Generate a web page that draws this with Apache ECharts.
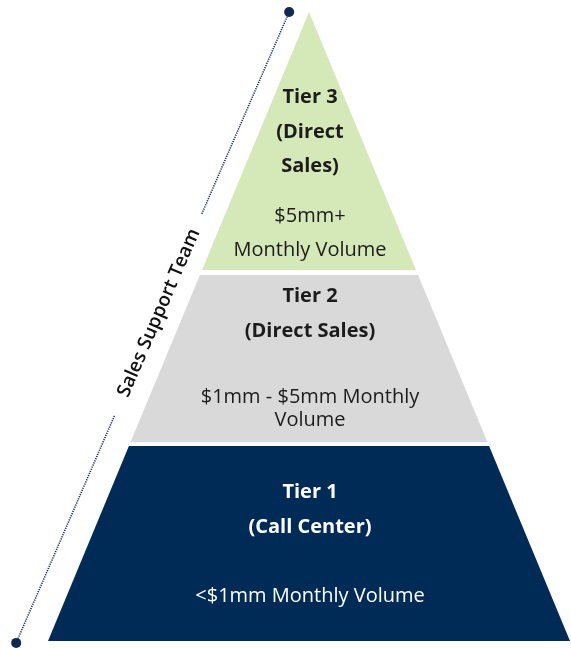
<!DOCTYPE html>
<html><head><meta charset="utf-8">
<script src="https://cdn.jsdelivr.net/npm/echarts@6/dist/echarts.min.js"></script>
<style>html,body{margin:0;padding:0;background:#fff}#c{width:571px;height:648px}</style>
</head><body><div id="c"></div>
<script>
// Tiers, bottom to top; heights as % of pyramid height (0 = base, 100 = apex)
const tierNames = ['Tier 1', 'Tier 2', 'Tier 3'];
const tierBottom = [0, 31.6, 59.0];
const tierTop = [31.0, 58.2, 100];
const tierLines = [
  ['Tier 1', '(Call Center)', '<$1mm Monthly Volume'],
  ['Tier 2', '(Direct Sales)', '$1mm - $5mm Monthly', 'Volume'],
  ['Tier 3', '(Direct', 'Sales)', '$5mm+', 'Monthly Volume']
];
const tierBold = [[1, 1, 0], [1, 1, 0, 0], [1, 1, 1, 0, 0]];
// Bracket annotation (data units)
const bracketStart = [-56.1, -0.3];
const bracketEnd = [-3.8, 100];
const bracketLabel = 'Sales Support Team';

const tierColors = ['#002b57', '#d9d9d9', '#d5e8b8'];
const tierTextColors = ['#ffffff', '#1c1c1c', '#1c1c1c'];
const lineOffsets = [[46, 81, 150], [21, 56, 122, 145], [85, 120, 154, 204, 238]];
const FONT = '"Open Sans", "Liberation Sans", sans-serif';

const chart = echarts.init(document.getElementById('c'), null, {renderer: 'canvas'});

function renderTier(params, api) {
  const i = params.dataIndex;
  const b = api.value(1), t = api.value(2);
  const hb = 50 * (1 - b / 100), ht = 50 * (1 - t / 100);
  const p1 = api.coord([-hb, b]), p2 = api.coord([hb, b]);
  const p3 = api.coord([ht, t]), p4 = api.coord([-ht, t]);
  const children = [{
    type: 'polygon',
    shape: {points: [p1, p2, p3, p4]},
    style: {fill: tierColors[i]}
  }];
  const cx = api.coord([0, t])[0] + 1;
  const topY = p4[1];
  tierLines[i].forEach((s, k) => {
    children.push({
      type: 'text',
      x: cx, y: topY + lineOffsets[i][k],
      style: {
        text: s, fill: tierTextColors[i],
        font: (tierBold[i][k] ? 'bold ' : '') + '20px ' + FONT,
        align: 'center', verticalAlign: 'middle'
      }
    });
  });
  return {type: 'group', children};
}

function renderBracket(params, api) {
  const a = api.coord([api.value(0), api.value(1)]);
  const b = api.coord([api.value(2), api.value(3)]);
  const lerp = (t) => [a[0] + (b[0] - a[0]) * t, a[1] + (b[1] - a[1]) * t];
  const g1 = lerp(0.36), g2 = lerp(0.68), m = lerp(0.523);
  const ang = Math.atan2(a[1] - b[1], b[0] - a[0]);
  const lineStyle = {stroke: '#1b2f55', lineWidth: 1.6, lineDash: [1.2, 1.1]};
  return {
    type: 'group',
    children: [
      {type: 'line', shape: {x1: a[0], y1: a[1], x2: g1[0], y2: g1[1]}, style: lineStyle},
      {type: 'line', shape: {x1: g2[0], y1: g2[1], x2: b[0], y2: b[1]}, style: lineStyle},
      {type: 'circle', shape: {cx: a[0], cy: a[1], r: 5}, style: {fill: '#0e2a52'}},
      {type: 'circle', shape: {cx: b[0], cy: b[1], r: 5}, style: {fill: '#0e2a52'}},
      {type: 'text', x: m[0], y: m[1], rotation: ang,
        style: {text: bracketLabel, fill: '#111', font: '600 19px ' + FONT, align: 'center', verticalAlign: 'middle'}}
    ]
  };
}

chart.setOption({
  animation: false,
  backgroundColor: '#ffffff',
  grid: {left: 48, right: 1, top: 12, bottom: 7},
  xAxis: {type: 'value', min: -50, max: 50, show: false},
  yAxis: {type: 'value', min: 0, max: 100, show: false},
  series: [
    {
      type: 'custom', name: 'Tiers', clip: false,
      renderItem: renderTier,
      data: tierNames.map((n, i) => ({name: n, value: [i, tierBottom[i], tierTop[i]]}))
    },
    {
      type: 'custom', name: 'Bracket', clip: false,
      renderItem: renderBracket,
      data: [[bracketStart[0], bracketStart[1], bracketEnd[0], bracketEnd[1]]]
    }
  ]
});
</script>
</body></html>
